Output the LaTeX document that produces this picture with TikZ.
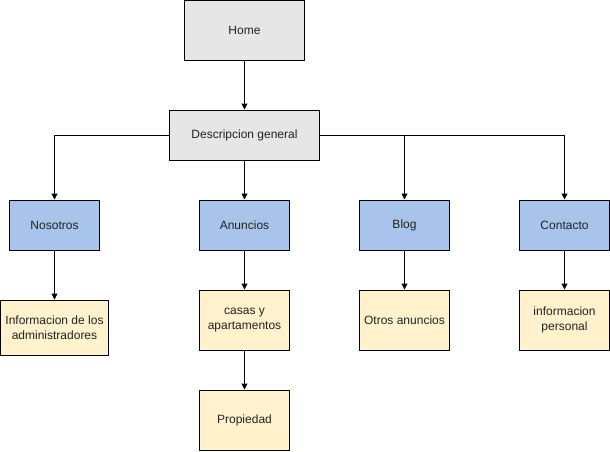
\documentclass[tikz,border=0pt]{standalone}
\usepackage{fontspec}
\setmainfont{Liberation Sans}
\usetikzlibrary{arrows.meta}
\definecolor{greyfill}{HTML}{E6E6E6}
\definecolor{bluefill}{HTML}{A9C4EB}
\definecolor{yellowfill}{HTML}{FFF2CC}
\definecolor{txt}{HTML}{222222}
\begin{document}
\begin{tikzpicture}[x=1pt,y=-1pt,
  box/.style={draw=black, line width=1pt, minimum width=90pt, minimum height=50pt, inner sep=0pt,
    align=center, text=txt, font=\fontsize{12}{14.5}\selectfont},
  greybox/.style={box, fill=greyfill},
  bluebox/.style={box, fill=bluefill},
  yellowbox/.style={box, fill=yellowfill, minimum height=60pt},
  conn/.style={draw=black, line width=1pt, -{Triangle[length=6pt,width=6pt]}}]
\useasboundingbox (0,0) rectangle (610,451);
\node[greybox, minimum width=120pt, minimum height=60pt] (home) at (244.5,30) {Home};
\node[greybox, minimum width=150pt] (desc) at (244.5,135) {Descripcion general};
\node[bluebox] (nos) at (54.5,225) {Nosotros};
\node[bluebox] (anun) at (244.5,225) {Anuncios};
\node[bluebox] (blog) at (404.5,225) {Blog};
\node[bluebox] (cont) at (564.5,225) {Contacto};
\node[yellowbox, minimum width=108pt, minimum height=55pt] (info) at (54.5,327.5) {Informacion de los\\administradores};
\node[yellowbox] (casas) at (244.5,320) {casas y\\apartamentos};
\node[yellowbox] (prop) at (244.5,420) {Propiedad};
\node[yellowbox] (otros) at (404.5,320) {Otros anuncios};
\node[yellowbox] (pers) at (564.5,320) {informacion\\personal};
\draw[conn] (home) -- (desc);
\draw[conn] (desc.west) -| (nos.north);
\draw[conn] (desc.south) -- (anun.north);
\draw[conn] (desc.east) -| (blog.north);
\draw[conn] (desc.east) -| (cont.north);
\draw[conn] (nos) -- (info);
\draw[conn] (anun) -- (casas);
\draw[conn] (casas) -- (prop);
\draw[conn] (blog) -- (otros);
\draw[conn] (cont) -- (pers);
\end{tikzpicture}
\end{document}
